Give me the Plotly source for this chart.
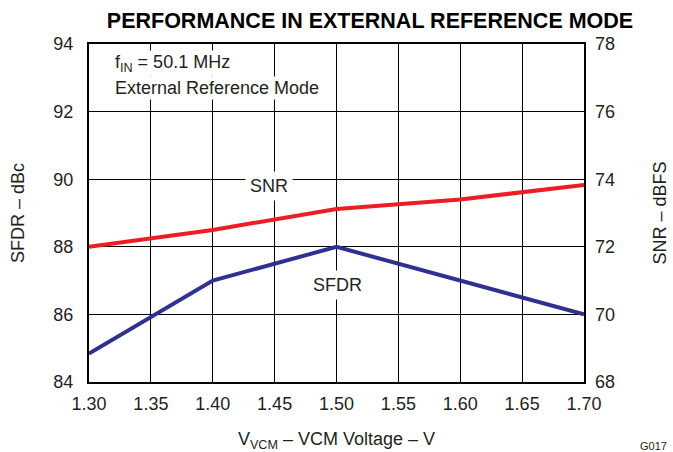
import plotly.graph_objects as go

vcm = [1.30, 1.40, 1.50, 1.60, 1.70]
snr_dbfs = [72.0, 72.5, 73.12, 73.4, 73.83]
sfdr_dbc = [84.84, 87.0, 88.0, 87.0, 86.0]
x_ticks = [1.30, 1.35, 1.40, 1.45, 1.50, 1.55, 1.60, 1.65, 1.70]
x_tick_labels = ["1.30", "1.35", "1.40", "1.45", "1.50", "1.55", "1.60", "1.65", "1.70"]
left_ticks = [84, 86, 88, 90, 92, 94]
right_ticks = [68, 70, 72, 74, 76, 78]

FONT = "Liberation Sans, Arial, sans-serif"
TXT = "#231f20"

fig = go.Figure()
fig.add_trace(go.Scatter(x=vcm, y=sfdr_dbc, mode="lines", name="SFDR",
                         line=dict(color="#2e3192", width=4), yaxis="y"))
fig.add_trace(go.Scatter(x=vcm, y=snr_dbfs, mode="lines", name="SNR",
                         line=dict(color="#ee1c25", width=4), yaxis="y2"))

fig.update_layout(
    width=673, height=452,
    margin=dict(l=89, r=89, t=44, b=70, autoexpand=False),
    paper_bgcolor="white", plot_bgcolor="white",
    showlegend=False,
    font=dict(family=FONT, size=18, color=TXT),
    title=dict(text="<b>PERFORMANCE IN EXTERNAL REFERENCE MODE</b>",
               x=370 / 673, xanchor="center", y=1 - 20 / 452, yanchor="middle",
               font=dict(family=FONT, size=21.5, color="#000000")),
    xaxis=dict(range=[1.30, 1.70], tickvals=x_ticks, ticktext=x_tick_labels,
               showgrid=True, gridcolor="#000000", gridwidth=1,
               showline=True, linecolor="#000000", linewidth=2, mirror=True,
               zeroline=False, ticks="", ticklabelstandoff=4, automargin=False,
               title=dict(text="V<sub>VCM</sub> – VCM Voltage – V", standoff=20,
                          font=dict(size=18))),
    yaxis=dict(range=[84, 94], tickvals=left_ticks,
               showgrid=True, gridcolor="#000000", gridwidth=1,
               showline=True, linecolor="#000000", linewidth=2, mirror=True,
               zeroline=False, ticks="", ticklabelstandoff=10, automargin=False,
               title=dict(text="SFDR – dBc", standoff=24, font=dict(size=18))),
    yaxis2=dict(range=[68, 78], tickvals=right_ticks, overlaying="y", side="right",
                showgrid=False, showline=False, zeroline=False, ticks="",
                ticklabelstandoff=10, automargin=False,
                title=dict(text="SNR – dBFS", standoff=39, font=dict(size=18))),
)

fig.add_annotation(x=(113 - 89) / 495, y=(382 - 64) / 338, xref="paper", yref="paper",
                   xanchor="left", yanchor="middle",
                   text="f<sub>IN</sub> = 50.1 MHz", showarrow=False,
                   bgcolor="white", font=dict(size=18), borderpad=1)
fig.add_annotation(x=(113 - 89) / 495, y=(382 - 88) / 338, xref="paper", yref="paper",
                   xanchor="left", yanchor="middle",
                   text="External Reference Mode", showarrow=False,
                   bgcolor="white", font=dict(size=18), borderpad=1)
fig.add_annotation(x=1.4455, y=89.8, xref="x", yref="y", text="SNR", showarrow=False,
                   bgcolor="white", font=dict(size=18), borderpad=4)
fig.add_annotation(x=1.5008, y=86.87, xref="x", yref="y", text="SFDR", showarrow=False,
                   bgcolor="white", font=dict(size=18), borderpad=4)
fig.add_annotation(x=1.0, y=0.0, xref="paper", yref="paper", xanchor="left", yanchor="bottom",
                   xshift=54, yshift=-72, text="G017", showarrow=False,
                   font=dict(size=11))

fig.write_html("out.html",
               config={"displayModeBar": False, "staticPlot": True},
               post_script="document.body.style.margin='0';document.body.style.overflow='hidden';")
